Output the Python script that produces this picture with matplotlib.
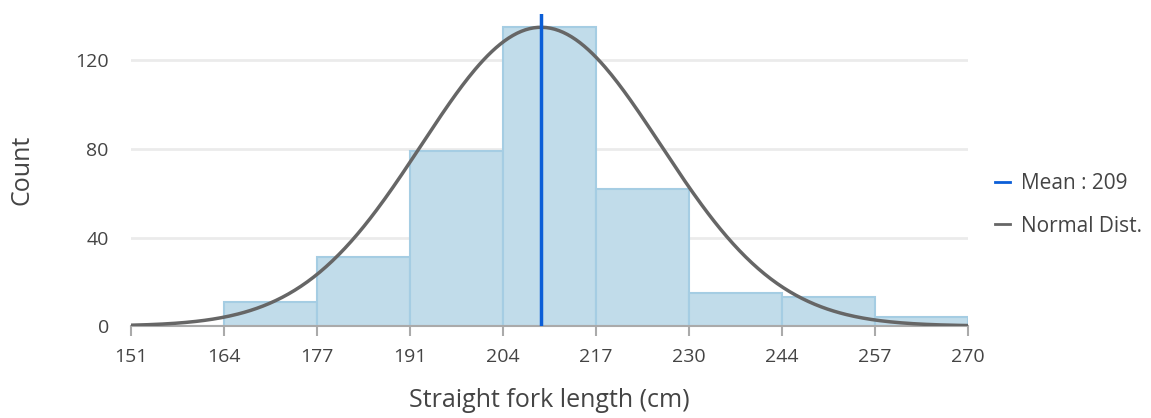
import numpy as np
import matplotlib.pyplot as plt

# histogram data
bin_edges = np.linspace(151, 270, 10)
counts = [0, 11, 31, 79, 135, 62, 15, 13, 4]
tick_labels = ['151', '164', '177', '191', '204', '217', '230', '244', '257', '270']

mean_value = 209.3
mean_label = 'Mean : 209'
# fitted normal curve parameters (scaled to peak)
norm_mu = 209.3
norm_sigma = 17.0
norm_peak = 135

plt.rcParams['font.family'] = ['Open Sans', 'DejaVu Sans']

fig = plt.figure(figsize=(11.51, 4.18), dpi=100)
ax = fig.add_axes([0.1138, 0.22, 0.7272, 0.7465])

widths = np.diff(bin_edges)
ax.bar(bin_edges[:-1], counts, width=widths, align='edge',
       color='#c1dcea', edgecolor='#a5cde3', linewidth=1.5, zorder=2)

xs = np.linspace(bin_edges[0], bin_edges[-1], 400)
ys = norm_peak * np.exp(-0.5 * ((xs - norm_mu) / norm_sigma) ** 2)
ax.plot(xs, ys, color='#666666', lw=2.5, zorder=3, label='Normal Dist.')

ax.plot([mean_value, mean_value], [0, 141], color='#0b5ed7', lw=2.5,
        zorder=4, label=mean_label)

ax.set_xlim(bin_edges[0], bin_edges[-1])
ax.set_ylim(0, 141)
ax.set_xticks(bin_edges)
ax.set_xticklabels(tick_labels)
ax.set_yticks([0, 40, 80, 120])

ax.grid(axis='y', color='#ebebeb', lw=2, zorder=0)
ax.set_axisbelow(True)
for s in ['top', 'right', 'left']:
    ax.spines[s].set_visible(False)
ax.spines['bottom'].set_color('#aaaaaa')
ax.spines['bottom'].set_linewidth(1.5)
ax.tick_params(axis='x', colors='#aaaaaa', length=7, width=1.5, labelcolor='#444444',
               labelsize=14, pad=9)
ax.tick_params(axis='y', length=0, labelcolor='#444444', labelsize=14, pad=16)

ax.set_xlabel('Straight fork length (cm)', fontsize=18, color='#444444', labelpad=16)
ax.set_ylabel('Count', fontsize=18, color='#444444', labelpad=29)

handles, labels = ax.get_legend_handles_labels()
leg = fig.legend(handles[::-1], labels[::-1], loc='center left',
                 bbox_to_anchor=(0.848, 0.51), frameon=False, fontsize=15,
                 handlelength=0.75, handletextpad=0.5, labelspacing=1.05,
                 labelcolor='#444444')
for line in leg.get_lines():
    line.set_linewidth(2)

fig.savefig('out.png', dpi=100)
